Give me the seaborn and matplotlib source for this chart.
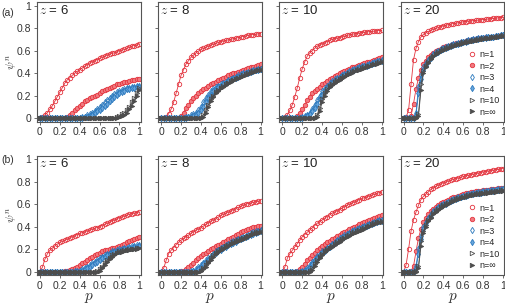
import numpy as np
import seaborn as sns
import matplotlib
import matplotlib.pyplot as plt
from matplotlib.lines import Line2D

matplotlib.use('Agg')

# p grid (0 .. 1 in steps of 0.025)
P = np.linspace(0, 1, 41)

Z_VALUES = [6, 8, 10, 20]
N_LABELS = ["n=1", "n=2", "n=3", "n=4", "n=10", "n=\u221e"]
X_TICKS = [0, 0.2, 0.4, 0.6, 0.8, 1]
X_TICK_LABELS = ["0", "0.2", "0.4", "0.6", "0.8", "1"]
Y_TICK_LABELS = ["0", "0.2", "0.4", "0.6", "0.8", "1"]

# ---------------- row (a) ----------------
A6_N1 = [0, 0.01, 0.03, 0.05, 0.08, 0.11, 0.15, 0.19, 0.23, 0.27,
         0.31, 0.34, 0.36, 0.38, 0.40, 0.415, 0.43, 0.445, 0.46, 0.475,
         0.49, 0.50, 0.51, 0.52, 0.53, 0.54, 0.55, 0.56, 0.57, 0.575,
         0.58, 0.59, 0.60, 0.605, 0.61, 0.62, 0.63, 0.64, 0.645, 0.65,
         0.66]
A6_N2 = [0, 0, 0, 0, 0, 0, 0, 0, 0, 0,
         0.005, 0.015, 0.03, 0.05, 0.07, 0.09, 0.11, 0.13, 0.15, 0.165,
         0.18, 0.19, 0.20, 0.21, 0.225, 0.24, 0.25, 0.26, 0.27, 0.28,
         0.29, 0.30, 0.305, 0.31, 0.32, 0.325, 0.33, 0.335, 0.34, 0.345,
         0.35]
A6_N3 = [0, 0, 0, 0, 0, 0, 0, 0, 0, 0,
         0, 0, 0, 0, 0, 0, 0.005, 0.01, 0.015, 0.025,
         0.035, 0.05, 0.065, 0.08, 0.10, 0.12, 0.14, 0.16, 0.18, 0.20,
         0.215, 0.23, 0.24, 0.25, 0.26, 0.265, 0.27, 0.275, 0.28, 0.285,
         0.29]
A6_N4 = [0, 0, 0, 0, 0, 0, 0, 0, 0, 0,
         0, 0, 0, 0, 0, 0, 0, 0.005, 0.01, 0.015,
         0.02, 0.03, 0.045, 0.06, 0.075, 0.09, 0.11, 0.13, 0.15, 0.17,
         0.19, 0.205, 0.22, 0.235, 0.245, 0.255, 0.26, 0.265, 0.27, 0.275,
         0.28]
A6_N10 = [0, 0, 0, 0, 0, 0, 0, 0, 0, 0,
          0, 0, 0, 0, 0, 0, 0, 0, 0, 0,
          0, 0, 0, 0, 0, 0, 0, 0, 0, 0,
          0.005, 0.01, 0.02, 0.035, 0.05, 0.075, 0.10, 0.14, 0.18, 0.22,
          0.27]
A6_NINF = [0, 0, 0, 0, 0, 0, 0, 0, 0, 0,
           0, 0, 0, 0, 0, 0, 0, 0, 0, 0,
           0, 0, 0, 0, 0, 0, 0, 0, 0, 0,
           0, 0.005, 0.01, 0.02, 0.03, 0.05, 0.08, 0.11, 0.15, 0.20,
           0.25]

A8_N1 = [0, 0, 0.01, 0.04, 0.08, 0.14, 0.22, 0.30, 0.38, 0.43,
         0.48, 0.51, 0.54, 0.56, 0.58, 0.595, 0.61, 0.62, 0.63, 0.64,
         0.65, 0.657, 0.665, 0.672, 0.68, 0.685, 0.69, 0.695, 0.70, 0.705,
         0.71, 0.715, 0.72, 0.725, 0.73, 0.735, 0.74, 0.742, 0.745, 0.748,
         0.75]
A8_N2 = [0, 0, 0, 0, 0, 0, 0, 0.005, 0.02, 0.05,
         0.09, 0.12, 0.15, 0.175, 0.20, 0.22, 0.24, 0.255, 0.27, 0.285,
         0.30, 0.312, 0.325, 0.337, 0.35, 0.36, 0.37, 0.38, 0.39, 0.397,
         0.405, 0.412, 0.42, 0.428, 0.435, 0.442, 0.45, 0.457, 0.465, 0.472,
         0.48]
A8_N3 = [0, 0, 0, 0, 0, 0, 0, 0, 0.002, 0.005,
         0.01, 0.015, 0.025, 0.035, 0.05, 0.07, 0.10, 0.14, 0.18, 0.21,
         0.24, 0.26, 0.28, 0.29, 0.30, 0.315, 0.325, 0.335, 0.35, 0.36,
         0.37, 0.38, 0.39, 0.397, 0.405, 0.41, 0.42, 0.425, 0.43, 0.435,
         0.44]
A8_N4 = [0, 0, 0, 0, 0, 0, 0, 0, 0, 0,
         0.005, 0.01, 0.015, 0.02, 0.03, 0.045, 0.07, 0.10, 0.14, 0.18,
         0.21, 0.24, 0.26, 0.275, 0.29, 0.305, 0.315, 0.33, 0.34, 0.35,
         0.36, 0.37, 0.38, 0.39, 0.40, 0.405, 0.41, 0.42, 0.425, 0.43,
         0.435]
A8_N10 = [0, 0, 0, 0, 0, 0, 0, 0, 0, 0,
          0, 0, 0, 0, 0, 0, 0.005, 0.03, 0.07, 0.12,
          0.17, 0.20, 0.23, 0.25, 0.27, 0.285, 0.30, 0.315, 0.33, 0.34,
          0.35, 0.36, 0.37, 0.38, 0.39, 0.40, 0.41, 0.415, 0.42, 0.43,
          0.435]
A8_NINF = [0, 0, 0, 0, 0, 0, 0, 0, 0, 0,
           0, 0, 0, 0, 0, 0, 0, 0.015, 0.05, 0.10,
           0.15, 0.19, 0.22, 0.245, 0.265, 0.28, 0.295, 0.31, 0.325, 0.335,
           0.345, 0.355, 0.365, 0.375, 0.385, 0.395, 0.405, 0.41, 0.415, 0.425,
           0.43]

A10_N1 = [0, 0.01, 0.03, 0.07, 0.12, 0.19, 0.27, 0.36, 0.44, 0.50,
          0.55, 0.58, 0.60, 0.62, 0.64, 0.65, 0.66, 0.67, 0.68, 0.69,
          0.70, 0.705, 0.71, 0.715, 0.72, 0.727, 0.735, 0.74, 0.745, 0.748,
          0.75, 0.755, 0.76, 0.762, 0.765, 0.768, 0.77, 0.772, 0.775, 0.778,
          0.78]
A10_N2 = [0, 0, 0, 0, 0, 0.005, 0.02, 0.05, 0.08, 0.12,
          0.16, 0.19, 0.22, 0.24, 0.26, 0.28, 0.30, 0.315, 0.33, 0.345,
          0.36, 0.372, 0.385, 0.397, 0.41, 0.42, 0.43, 0.44, 0.45, 0.457,
          0.465, 0.472, 0.48, 0.487, 0.495, 0.502, 0.51, 0.517, 0.525, 0.532,
          0.54]
A10_N3 = [0, 0, 0, 0, 0, 0, 0, 0.005, 0.01, 0.02,
          0.03, 0.05, 0.08, 0.12, 0.16, 0.20, 0.24, 0.265, 0.29, 0.31,
          0.33, 0.345, 0.355, 0.37, 0.38, 0.392, 0.405, 0.417, 0.43, 0.437,
          0.445, 0.452, 0.46, 0.467, 0.475, 0.482, 0.49, 0.497, 0.505, 0.512,
          0.52]
A10_N4 = [0, 0, 0, 0, 0, 0, 0, 0, 0.005, 0.01,
          0.02, 0.035, 0.06, 0.09, 0.13, 0.17, 0.21, 0.245, 0.27, 0.295,
          0.315, 0.33, 0.345, 0.36, 0.372, 0.385, 0.397, 0.41, 0.42, 0.43,
          0.437, 0.445, 0.452, 0.46, 0.467, 0.475, 0.482, 0.49, 0.497, 0.505,
          0.512]
A10_N10 = [0, 0, 0, 0, 0, 0, 0, 0, 0, 0,
           0, 0, 0, 0.005, 0.03, 0.09, 0.17, 0.22, 0.26, 0.285,
           0.305, 0.32, 0.335, 0.35, 0.36, 0.372, 0.385, 0.397, 0.41, 0.42,
           0.43, 0.437, 0.445, 0.452, 0.46, 0.467, 0.475, 0.482, 0.49, 0.497,
           0.505]
A10_NINF = [0, 0, 0, 0, 0, 0, 0, 0, 0, 0,
            0, 0, 0, 0, 0.015, 0.06, 0.14, 0.20, 0.245, 0.275,
            0.295, 0.312, 0.327, 0.342, 0.355, 0.367, 0.38, 0.392, 0.405, 0.415,
            0.425, 0.432, 0.44, 0.447, 0.455, 0.462, 0.47, 0.477, 0.485, 0.492,
            0.50]

A20_N1 = [0, 0.01, 0.07, 0.30, 0.52, 0.62, 0.68, 0.72, 0.745, 0.76,
          0.77, 0.78, 0.79, 0.798, 0.805, 0.812, 0.82, 0.825, 0.83, 0.835,
          0.84, 0.843, 0.847, 0.851, 0.855, 0.858, 0.861, 0.863, 0.865, 0.868,
          0.87, 0.872, 0.875, 0.877, 0.88, 0.882, 0.885, 0.887, 0.89, 0.892,
          0.895]
A20_N2 = [0, 0, 0.005, 0.02, 0.13, 0.26, 0.36, 0.43, 0.48, 0.51,
          0.54, 0.56, 0.58, 0.595, 0.607, 0.618, 0.63, 0.637, 0.645, 0.652,
          0.66, 0.665, 0.67, 0.675, 0.68, 0.685, 0.69, 0.695, 0.70, 0.704,
          0.708, 0.712, 0.715, 0.718, 0.72, 0.723, 0.725, 0.729, 0.733, 0.737,
          0.74]
A20_N3 = [0, 0, 0, 0, 0.005, 0.05, 0.28, 0.38, 0.45, 0.49,
          0.52, 0.545, 0.57, 0.585, 0.598, 0.61, 0.62, 0.628, 0.637, 0.646,
          0.655, 0.661, 0.667, 0.673, 0.68, 0.685, 0.69, 0.695, 0.70, 0.704,
          0.708, 0.712, 0.715, 0.718, 0.72, 0.723, 0.725, 0.729, 0.733, 0.737,
          0.74]
A20_N4 = [0, 0, 0, 0, 0.002, 0.03, 0.22, 0.35, 0.43, 0.475,
          0.51, 0.535, 0.56, 0.577, 0.59, 0.603, 0.614, 0.623, 0.632, 0.641,
          0.65, 0.656, 0.662, 0.668, 0.675, 0.68, 0.685, 0.69, 0.695, 0.70,
          0.704, 0.708, 0.711, 0.714, 0.717, 0.72, 0.723, 0.727, 0.73, 0.734,
          0.738]
A20_N10 = [0, 0, 0, 0, 0, 0.005, 0.04, 0.30, 0.42, 0.465,
           0.50, 0.53, 0.555, 0.572, 0.586, 0.599, 0.61, 0.62, 0.629, 0.638,
           0.647, 0.653, 0.659, 0.665, 0.672, 0.677, 0.682, 0.687, 0.692, 0.697,
           0.701, 0.705, 0.708, 0.711, 0.714, 0.717, 0.72, 0.724, 0.728, 0.731,
           0.735]
A20_NINF = [0, 0, 0, 0, 0, 0.002, 0.02, 0.25, 0.40, 0.455,
            0.49, 0.522, 0.548, 0.566, 0.58, 0.594, 0.605, 0.615, 0.625, 0.634,
            0.643, 0.65, 0.656, 0.662, 0.669, 0.674, 0.679, 0.684, 0.689, 0.694,
            0.698, 0.702, 0.705, 0.708, 0.711, 0.714, 0.717, 0.721, 0.725, 0.728,
            0.732]

# ---------------- row (b) ----------------
B6_N1 = [0, 0.04, 0.11, 0.16, 0.19, 0.21, 0.23, 0.245, 0.26, 0.27,
         0.28, 0.29, 0.30, 0.31, 0.32, 0.33, 0.34, 0.347, 0.355, 0.362,
         0.37, 0.377, 0.385, 0.392, 0.40, 0.41, 0.42, 0.43, 0.44, 0.45,
         0.46, 0.47, 0.48, 0.487, 0.495, 0.502, 0.51, 0.515, 0.52, 0.525,
         0.53]
B6_N2 = [0, 0, 0, 0, 0, 0, 0, 0, 0, 0.002,
         0.005, 0.008, 0.012, 0.02, 0.03, 0.045, 0.06, 0.075, 0.09, 0.105,
         0.12, 0.135, 0.15, 0.16, 0.17, 0.18, 0.19, 0.195, 0.20, 0.21,
         0.215, 0.22, 0.23, 0.24, 0.25, 0.26, 0.27, 0.28, 0.29, 0.30,
         0.31]
B6_N3 = [0, 0, 0, 0, 0, 0, 0, 0, 0, 0,
         0, 0, 0, 0, 0.003, 0.006, 0.01, 0.02, 0.03, 0.045,
         0.06, 0.075, 0.09, 0.105, 0.12, 0.135, 0.15, 0.16, 0.17, 0.18,
         0.185, 0.19, 0.20, 0.205, 0.21, 0.215, 0.22, 0.225, 0.23, 0.235,
         0.24]
B6_N4 = [0, 0, 0, 0, 0, 0, 0, 0, 0, 0,
         0, 0, 0, 0, 0, 0, 0.005, 0.01, 0.02, 0.03,
         0.045, 0.06, 0.075, 0.09, 0.105, 0.12, 0.135, 0.145, 0.155, 0.165,
         0.172, 0.18, 0.187, 0.193, 0.198, 0.203, 0.208, 0.213, 0.218, 0.223,
         0.228]
B6_N10 = [0, 0, 0, 0, 0, 0, 0, 0, 0, 0,
          0, 0, 0, 0, 0, 0, 0, 0, 0, 0,
          0, 0, 0, 0.005, 0.02, 0.045, 0.075, 0.10, 0.125, 0.145,
          0.16, 0.17, 0.18, 0.185, 0.19, 0.195, 0.20, 0.203, 0.206, 0.209,
          0.212]
B6_NINF = [0, 0, 0, 0, 0, 0, 0, 0, 0, 0,
           0, 0, 0, 0, 0, 0, 0, 0, 0, 0,
           0, 0, 0, 0, 0.01, 0.03, 0.06, 0.09, 0.115, 0.135,
           0.15, 0.162, 0.172, 0.179, 0.185, 0.19, 0.195, 0.198, 0.201, 0.204,
           0.207]

B8_N1 = [0, 0.03, 0.10, 0.16, 0.19, 0.215, 0.24, 0.26, 0.28, 0.295,
         0.31, 0.325, 0.34, 0.355, 0.37, 0.38, 0.39, 0.405, 0.42, 0.435,
         0.45, 0.46, 0.47, 0.485, 0.50, 0.51, 0.52, 0.53, 0.54, 0.55,
         0.56, 0.57, 0.58, 0.59, 0.60, 0.605, 0.61, 0.615, 0.62, 0.625,
         0.63]
B8_N2 = [0, 0, 0, 0, 0, 0, 0, 0, 0.005, 0.01,
         0.02, 0.04, 0.06, 0.08, 0.10, 0.12, 0.14, 0.155, 0.17, 0.185,
         0.20, 0.212, 0.225, 0.237, 0.25, 0.262, 0.275, 0.287, 0.30, 0.312,
         0.325, 0.337, 0.35, 0.36, 0.37, 0.38, 0.39, 0.395, 0.40, 0.405,
         0.41]
B8_N3 = [0, 0, 0, 0, 0, 0, 0, 0, 0, 0,
         0, 0, 0.005, 0.01, 0.02, 0.04, 0.06, 0.08, 0.10, 0.12,
         0.14, 0.16, 0.18, 0.195, 0.21, 0.222, 0.235, 0.247, 0.26, 0.27,
         0.28, 0.29, 0.30, 0.31, 0.32, 0.33, 0.34, 0.35, 0.36, 0.365,
         0.37]
B8_N4 = [0, 0, 0, 0, 0, 0, 0, 0, 0, 0,
         0, 0, 0, 0.005, 0.01, 0.025, 0.045, 0.065, 0.085, 0.105,
         0.125, 0.145, 0.165, 0.18, 0.195, 0.21, 0.222, 0.235, 0.247, 0.258,
         0.268, 0.278, 0.288, 0.298, 0.308, 0.318, 0.328, 0.338, 0.348, 0.355,
         0.36]
B8_N10 = [0, 0, 0, 0, 0, 0, 0, 0, 0, 0,
          0, 0, 0, 0, 0, 0, 0.01, 0.035, 0.06, 0.09,
          0.12, 0.145, 0.165, 0.185, 0.20, 0.212, 0.225, 0.237, 0.25, 0.26,
          0.27, 0.28, 0.29, 0.30, 0.31, 0.32, 0.33, 0.34, 0.35, 0.355,
          0.36]
B8_NINF = [0, 0, 0, 0, 0, 0, 0, 0, 0, 0,
           0, 0, 0, 0, 0, 0, 0.003, 0.02, 0.045, 0.075,
           0.105, 0.13, 0.155, 0.175, 0.19, 0.203, 0.216, 0.229, 0.242, 0.253,
           0.263, 0.273, 0.283, 0.293, 0.303, 0.313, 0.323, 0.333, 0.342, 0.348,
           0.353]

B10_N1 = [0, 0.04, 0.12, 0.16, 0.19, 0.22, 0.25, 0.28, 0.31, 0.33,
          0.35, 0.37, 0.39, 0.41, 0.43, 0.445, 0.46, 0.475, 0.49, 0.505,
          0.52, 0.53, 0.54, 0.552, 0.565, 0.577, 0.59, 0.60, 0.61, 0.62,
          0.63, 0.64, 0.65, 0.657, 0.665, 0.672, 0.68, 0.687, 0.695, 0.702,
          0.71]
B10_N2 = [0, 0, 0, 0, 0, 0, 0.005, 0.02, 0.04, 0.07,
          0.10, 0.125, 0.15, 0.17, 0.19, 0.21, 0.23, 0.245, 0.26, 0.275,
          0.29, 0.302, 0.315, 0.327, 0.34, 0.352, 0.365, 0.377, 0.39, 0.40,
          0.41, 0.42, 0.43, 0.44, 0.45, 0.46, 0.47, 0.477, 0.485, 0.492,
          0.50]
B10_N3 = [0, 0, 0, 0, 0, 0, 0, 0, 0.005, 0.015,
          0.03, 0.06, 0.09, 0.115, 0.14, 0.16, 0.18, 0.197, 0.215, 0.232,
          0.25, 0.265, 0.28, 0.295, 0.31, 0.322, 0.335, 0.347, 0.36, 0.37,
          0.38, 0.39, 0.40, 0.407, 0.415, 0.422, 0.43, 0.44, 0.45, 0.455,
          0.46]
B10_N4 = [0, 0, 0, 0, 0, 0, 0, 0, 0, 0.005,
          0.015, 0.04, 0.07, 0.10, 0.125, 0.147, 0.168, 0.187, 0.205, 0.222,
          0.24, 0.255, 0.27, 0.285, 0.30, 0.312, 0.325, 0.337, 0.35, 0.36,
          0.37, 0.38, 0.39, 0.398, 0.406, 0.414, 0.422, 0.43, 0.44, 0.446,
          0.452]
B10_N10 = [0, 0, 0, 0, 0, 0, 0, 0, 0, 0,
           0, 0.005, 0.03, 0.065, 0.10, 0.13, 0.16, 0.18, 0.198, 0.215,
           0.23, 0.245, 0.26, 0.275, 0.29, 0.302, 0.315, 0.327, 0.34, 0.35,
           0.36, 0.37, 0.38, 0.39, 0.40, 0.41, 0.42, 0.43, 0.44, 0.445,
           0.45]
B10_NINF = [0, 0, 0, 0, 0, 0, 0, 0, 0, 0,
            0, 0, 0.015, 0.05, 0.085, 0.118, 0.15, 0.172, 0.19, 0.207,
            0.222, 0.237, 0.252, 0.267, 0.282, 0.295, 0.308, 0.32, 0.333, 0.343,
            0.353, 0.363, 0.373, 0.383, 0.393, 0.403, 0.413, 0.423, 0.432, 0.438,
            0.443]

B20_N1 = [0, 0.06, 0.20, 0.36, 0.46, 0.53, 0.59, 0.64, 0.67, 0.69,
          0.71, 0.73, 0.745, 0.758, 0.77, 0.78, 0.79, 0.797, 0.805, 0.812,
          0.82, 0.826, 0.832, 0.838, 0.845, 0.85, 0.855, 0.86, 0.865, 0.87,
          0.875, 0.88, 0.885, 0.889, 0.893, 0.896, 0.90, 0.904, 0.908, 0.912,
          0.915]
B20_N2 = [0, 0, 0, 0.005, 0.05, 0.18, 0.30, 0.38, 0.44, 0.48,
          0.51, 0.535, 0.56, 0.577, 0.593, 0.607, 0.62, 0.63, 0.64, 0.65,
          0.66, 0.667, 0.675, 0.682, 0.69, 0.695, 0.70, 0.705, 0.71, 0.713,
          0.716, 0.719, 0.722, 0.725, 0.728, 0.731, 0.734, 0.737, 0.74, 0.743,
          0.746]
B20_N3 = [0, 0, 0, 0, 0.005, 0.05, 0.20, 0.32, 0.40, 0.445,
          0.48, 0.51, 0.54, 0.56, 0.575, 0.588, 0.60, 0.612, 0.623, 0.634,
          0.645, 0.652, 0.66, 0.667, 0.675, 0.681, 0.687, 0.693, 0.70, 0.703,
          0.706, 0.709, 0.712, 0.715, 0.718, 0.721, 0.724, 0.727, 0.73, 0.733,
          0.736]
B20_N4 = [0, 0, 0, 0, 0.002, 0.03, 0.16, 0.29, 0.38, 0.43,
          0.468, 0.50, 0.53, 0.55, 0.567, 0.58, 0.593, 0.605, 0.616, 0.627,
          0.638, 0.646, 0.654, 0.661, 0.669, 0.675, 0.681, 0.687, 0.694, 0.697,
          0.70, 0.703, 0.706, 0.709, 0.712, 0.715, 0.718, 0.721, 0.724, 0.727,
          0.73]
B20_N10 = [0, 0, 0, 0, 0, 0.005, 0.05, 0.27, 0.36, 0.415,
           0.46, 0.49, 0.52, 0.54, 0.557, 0.572, 0.59, 0.60, 0.61, 0.622,
           0.635, 0.642, 0.65, 0.657, 0.665, 0.671, 0.677, 0.683, 0.69, 0.693,
           0.696, 0.699, 0.702, 0.705, 0.708, 0.711, 0.714, 0.717, 0.72, 0.723,
           0.725]
B20_NINF = [0, 0, 0, 0, 0, 0.002, 0.03, 0.23, 0.34, 0.40,
            0.447, 0.48, 0.51, 0.532, 0.55, 0.565, 0.582, 0.593, 0.604, 0.616,
            0.628, 0.636, 0.644, 0.651, 0.659, 0.665, 0.671, 0.677, 0.684, 0.687,
            0.69, 0.693, 0.696, 0.699, 0.702, 0.705, 0.708, 0.711, 0.714, 0.717,
            0.72]

ROW_A = [
    [A6_N1, A6_N2, A6_N3, A6_N4, A6_N10, A6_NINF],
    [A8_N1, A8_N2, A8_N3, A8_N4, A8_N10, A8_NINF],
    [A10_N1, A10_N2, A10_N3, A10_N4, A10_N10, A10_NINF],
    [A20_N1, A20_N2, A20_N3, A20_N4, A20_N10, A20_NINF],
]
ROW_B = [
    [B6_N1, B6_N2, B6_N3, B6_N4, B6_N10, B6_NINF],
    [B8_N1, B8_N2, B8_N3, B8_N4, B8_N10, B8_NINF],
    [B10_N1, B10_N2, B10_N3, B10_N4, B10_N10, B10_NINF],
    [B20_N1, B20_N2, B20_N3, B20_N4, B20_N10, B20_NINF],
]

# marker styles per n (edge colour, face colour, marker)
RED = '#e3343e'
BLUE = '#2a78bd'
GRAY = '#4d4d4d'
STYLES = [
    dict(color=RED, marker='o', mfc='none'),
    dict(color=RED, marker='o', mfc='#f07a80'),
    dict(color=BLUE, marker='d', mfc='none'),
    dict(color=BLUE, marker='d', mfc='#6aa6dc'),
    dict(color=GRAY, marker='>', mfc='none'),
    dict(color=GRAY, marker='>', mfc=GRAY),
]

sns.set_theme(style="ticks")
plt.rcParams['font.family'] = ['Liberation Sans', 'DejaVu Sans']
plt.rcParams['mathtext.fontset'] = 'cm'

fig, axes = plt.subplots(2, 4, figsize=(5.06, 3.04), dpi=100)
fig.subplots_adjust(left=0.073, right=0.997, top=0.993, bottom=0.095,
                    wspace=0.167, hspace=0.285)

for r, rows in enumerate([ROW_A, ROW_B]):
    for c, series in enumerate(rows):
        ax = axes[r, c]
        for vals, st in zip(series, STYLES):
            sns.lineplot(x=P, y=vals, ax=ax, color=st['color'], marker=st['marker'],
                         markerfacecolor=st['mfc'], markeredgecolor=st['color'],
                         markersize=3.2, markeredgewidth=0.6, linewidth=0.6)
        ax.set_xlim(-0.03, 1.015)
        ax.set_ylim(-0.03, 1.03)
        ax.set_xticks(X_TICKS)
        ax.set_xticklabels(X_TICK_LABELS)
        ax.set_yticks([0, 0.2, 0.4, 0.6, 0.8, 1])
        if c == 0:
            ax.set_yticklabels(Y_TICK_LABELS)
            ax.text(-0.235, 0.5, r'$\psi^n$', transform=ax.transAxes, rotation=90,
                    ha='center', va='center', fontsize=8.5, color='#333333')
        else:
            ax.set_yticklabels([])
        ax.tick_params(labelsize=7.5, length=2.5, width=0.6, pad=1.5,
                       colors='#555555', labelcolor='#333333')
        for s in ax.spines.values():
            s.set_color('#555555')
            s.set_linewidth(0.8)
        if r == 1:
            ax.set_xlabel(r'$p$', fontsize=11, labelpad=0, color='#333333')
        ax.text(0.02, 0.985, r'$z$ = ' + str(Z_VALUES[c]), transform=ax.transAxes,
                ha='left', va='top', fontsize=9.5, color='#222222')

    # legend (markers only) in the last panel of each row
    handles = [Line2D([], [], linestyle='none', marker=st['marker'], color=st['color'],
                      markerfacecolor=st['mfc'], markersize=3.2, markeredgewidth=0.6)
               for st in STYLES]
    axes[r, 3].legend(handles, N_LABELS, loc='lower right', frameon=False, fontsize=6.5,
                      handlelength=1.0, handletextpad=0.3, labelspacing=0.28,
                      borderaxespad=0.15)

fig.text(0.002, 0.975, '(a)', fontsize=7.5, va='top', color='#333333')
fig.text(0.002, 0.49, '(b)', fontsize=7.5, va='top', color='#333333')

plt.savefig('out.png', dpi=100)
plt.close()
